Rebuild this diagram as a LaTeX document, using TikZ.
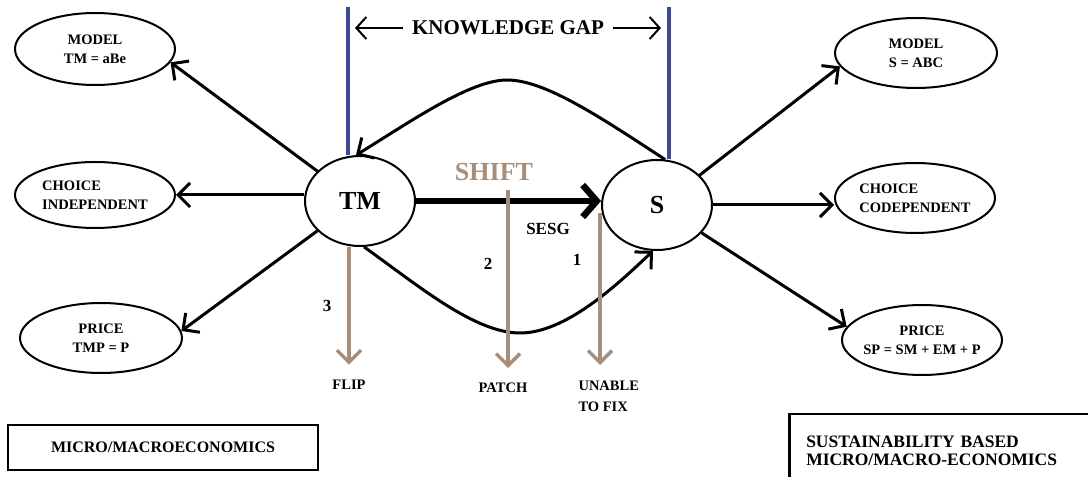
\documentclass[tikz,border=0pt]{standalone}
\usepackage{fontspec}
\setmainfont{Liberation Serif}
\usetikzlibrary{arrows.meta,shapes.geometric}
\definecolor{gapblue}{RGB}{62,74,150}
\definecolor{shifttan}{RGB}{166,142,122}

\begin{document}
\begin{tikzpicture}[x=1pt, y=1pt,
    oval/.style={ellipse, draw, line width=2pt, inner sep=-10pt, align=center,
        font=\bfseries\fontsize{14.5}{19}\selectfont},
    hub/.style={ellipse, draw, line width=2pt, minimum width=110, minimum height=90,
        font=\bfseries\fontsize{26}{28}\selectfont},
    link/.style={line width=3pt, -{Straight Barb[length=12pt, width=24pt]}},
    fixarrow/.style={shifttan, line width=3.5pt, -{Straight Barb[length=12pt, width=24pt]}},
    fixlabel/.style={font=\bfseries\fontsize{14.5}{21}\selectfont},
    numlabel/.style={font=\bfseries\fontsize{17}{19}\selectfont},
    gapline/.style={gapblue, line width=4.5pt},
    boxlabel/.style={draw, line width=2.5pt, font=\bfseries\fontsize{16}{18}\selectfont}
]
    \useasboundingbox (0,0) rectangle (1088,477);

    % Traditional side
    \node[hub] (TM) at (360,276) {TM};
    \node[oval, minimum width=160, minimum height=72] (modelTM) at (95,428) {MODEL\\TM = aBe};
    \node[oval, minimum width=160, minimum height=66, align=left] (choiceTM) at (95,282) {CHOICE\\INDEPENDENT};
    \node[oval, minimum width=162, minimum height=70] (priceTM) at (101,139) {PRICE\\TMP = P};
    \draw[link] (TM.145) -- (modelTM.350);
    \draw[link] (TM.west |- choiceTM) -- (choiceTM.east);
    \draw[link] (TM.-145) -- (priceTM.5);

    % Sustainability side
    \node[hub] (S) at (657,272) {S};
    \node[oval, minimum width=162, minimum height=70] (modelS) at (916,424) {MODEL\\S = ABC};
    \node[oval, minimum width=160, minimum height=70, align=left] (choiceS) at (915,279) {CHOICE\\CODEPENDENT};
    \node[oval, minimum width=160, minimum height=70] (priceS) at (922,137) {PRICE\\SP = SM + EM + P};
    \draw[link] (S.35) -- (modelS.190);
    \draw[link] (S.east) -- (choiceS.west |- S.east);
    \draw[link] (S.-32) -- (priceS.170);

    % Knowledge gap
    \coordinate (gapL) at (348,470);
    \coordinate (gapR) at (669,470);
    \draw[gapline] (gapL) -- (gapL |- TM.north);
    \draw[gapline] (gapR) -- (gapR |- S.north);
    \node[font=\bfseries\fontsize{21}{24}\selectfont, inner xsep=9pt] (gap) at (508,449) {KNOWLEDGE GAP};
    \draw[line width=2pt, -{Straight Barb[length=10pt, width=22pt]}, shorten >=7pt] (gap.west) -- (gapL |- gap);
    \draw[line width=2pt, -{Straight Barb[length=10pt, width=22pt]}, shorten >=8pt] (gap.east) -- (gapR |- gap);

    % Connections between TM and S
    \draw[link] (S.80) .. controls (600,360) and (545,397) .. (507,397)
        .. controls (470,397) and (410,355) .. (TM.95);
    \draw[line width=6.5pt, -{Straight Barb[length=14pt, width=32pt]}] (TM.east) -- (S.west |- TM.east);
    \draw[link] (TM.-85) .. controls (420,190) and (475,144) .. (520,144)
        .. controls (565,144) and (615,190) .. (S.-95);
    \node[font=\bfseries\fontsize{26}{28}\selectfont, text=shifttan] (shift) at (494,305) {SHIFT};
    \node[numlabel] (sesg) at (548,248) {SESG};

    % Ways out
    \node[fixlabel] (flip) at (349,92) {FLIP};
    \node[fixlabel] (patch) at (503,89) {PATCH};
    \node[fixlabel, align=left, anchor=west] (unable) at (575,81) {UNABLE\\TO FIX};
    \coordinate (fix2) at (508,287);
    \coordinate (fix1) at (600,264);
    \draw[fixarrow, shorten >=12pt] (flip |- TM.south) -- (flip.north);
    \draw[fixarrow] (fix2) -- (fix2 |- 0,109);
    \draw[fixarrow] (fix1) -- (fix1 |- 0,112);
    \node[numlabel] (n3) at (327,171) {3};
    \node[numlabel] (n2) at (488,213) {2};
    \node[numlabel] (n1) at (577,217) {1};

    % Frameworks
    \node[boxlabel, minimum width=310, minimum height=45] (microBox) at (163,29.5) {MICRO/MACROECONOMICS};
    \node[boxlabel, anchor=north west, minimum height=74, text width=290, inner xsep=17pt, align=left,
        font=\bfseries\fontsize{17.5}{18}\selectfont] (sustBox) at (788,64) {SUSTAINABILITY BASED\\MICRO/MACRO-ECONOMICS};

\end{tikzpicture}
\end{document}
